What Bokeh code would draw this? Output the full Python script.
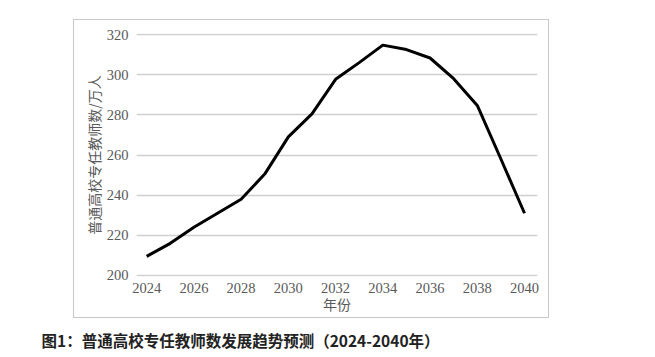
from bokeh.plotting import figure
from bokeh.layouts import column
from bokeh.models import FixedTicker, Range1d, Label
from bokeh.embed import file_html
from bokeh.resources import INLINE

years = [2024, 2025, 2026, 2027, 2028, 2029, 2030, 2031, 2032,
         2033, 2034, 2035, 2036, 2037, 2038, 2039, 2040]
teachers = [209.5, 216, 224, 231, 238, 250.5, 269, 280.5, 297.7,
            306, 314.7, 312.5, 308.3, 298, 284.7, 258, 231]
x_ticks = [2024, 2026, 2028, 2030, 2032, 2034, 2036, 2038, 2040]
y_ticks = [200, 220, 240, 260, 280, 300, 320]
y_title = "普通高校专任教师数/万人"
x_title = "年份"
caption = "图1：普通高校专任教师数发展趋势预测（2024-2040年）"

p = figure(output_backend="svg", toolbar_location=None,
           frame_width=399, frame_height=241,
           min_border_left=62, min_border_right=13,
           min_border_top=13, min_border_bottom=43,
           x_range=Range1d(2023.57, 2040.55), y_range=Range1d(199.5, 320.5))
p.background_fill_color = "white"
p.border_fill_color = "white"
p.outline_line_color = None
p.margin = (19, 0, 0, 73)
p.align = "start"
p.styles = {"border": "1.5px solid #c8c8c8"}

p.line(years, teachers, line_color="black", line_width=3, line_join="round")

p.xgrid.grid_line_color = None
p.ygrid.grid_line_color = "#cfcfcf"
p.ygrid.grid_line_width = 1.3
p.yaxis.ticker = FixedTicker(ticks=y_ticks)
p.xaxis.ticker = FixedTicker(ticks=x_ticks)

for ax in (p.xaxis, p.yaxis):
    ax.axis_line_color = None
    ax.major_tick_line_color = None
    ax.minor_tick_line_color = None
    ax.major_label_text_font = "Liberation Serif"
    ax.major_label_text_font_size = "14.5px"
    ax.major_label_text_color = "#595959"
    ax.axis_label_text_font = "Noto Sans CJK SC"
    ax.axis_label_text_font_size = "14px"
    ax.axis_label_text_color = "#595959"
    ax.axis_label_text_font_style = "normal"

p.yaxis.major_label_standoff = 2
p.xaxis.major_label_standoff = 0
p.yaxis.axis_label = y_title
p.xaxis.axis_label = x_title
p.yaxis.axis_label_standoff = 0
p.xaxis.axis_label_standoff = -2

capfig = figure(output_backend="svg", toolbar_location=None,
                frame_width=600, frame_height=24, min_border=0,
                min_border_left=0, min_border_right=0,
                min_border_top=0, min_border_bottom=0,
                x_axis_location=None, y_axis_location=None,
                x_range=Range1d(0, 1), y_range=Range1d(0, 1))
capfig.outline_line_color = None
capfig.grid.visible = False
capfig.background_fill_color = "white"
capfig.border_fill_color = "white"
capfig.margin = (10, 0, 0, -64)
capfig.align = "start"
cap = Label(x=43, y=13, x_units="screen", y_units="screen", text=caption,
            text_font="Noto Sans CJK SC", text_font_size="15.5px",
            text_font_style="bold", text_color="#222222",
            text_baseline="middle", text_align="left")
capfig.add_layout(cap)

layout = column(p, capfig, spacing=0, align="start")
open("out.html", "w").write(file_html(layout, INLINE))
